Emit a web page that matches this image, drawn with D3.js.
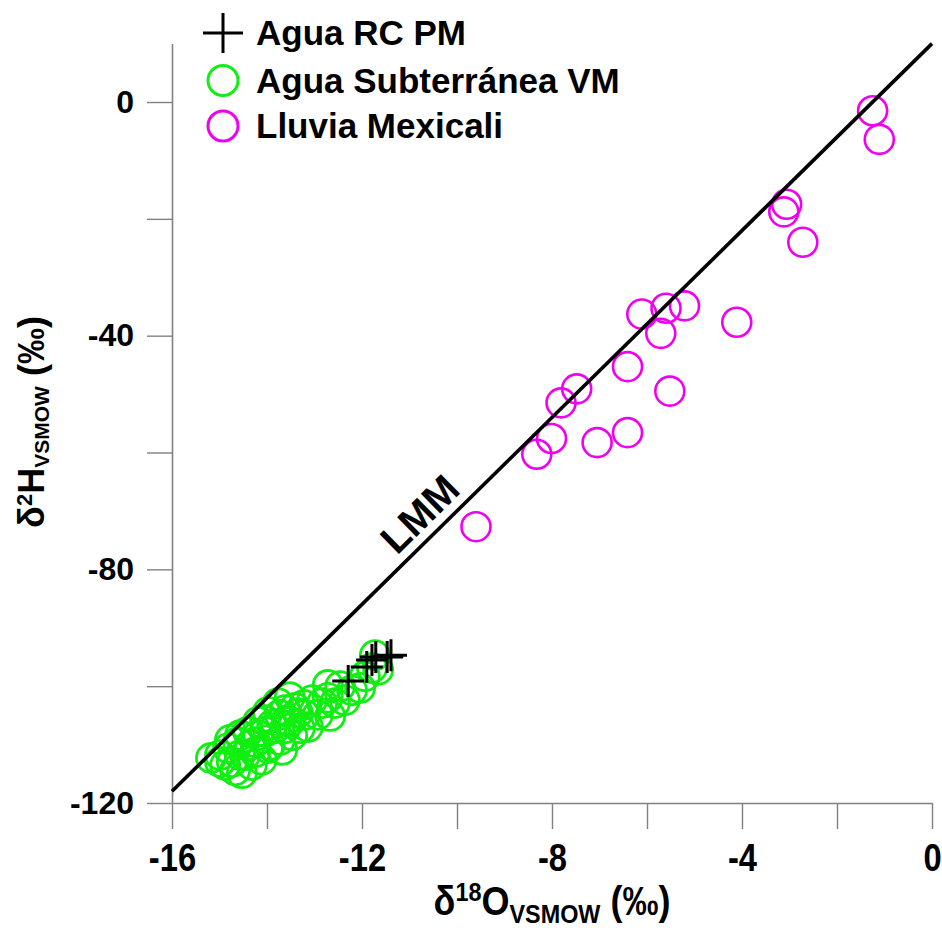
<!DOCTYPE html>
<html>
<head>
<meta charset="utf-8">
<script src="https://cdn.jsdelivr.net/npm/d3@7"></script>
<style>
  html, body { margin: 0; padding: 0; background: #fff; }
  svg { display: block; }
  text { font-family: "Liberation Sans", Arial, sans-serif; font-weight: bold; fill: #000; }
</style>
</head>
<body>
<svg id="chart" width="942" height="931"></svg>
<script>
// δ18O / δ2H (‰ VSMOW) values per sample group
const rcX = [-12.29, -11.90, -11.79, -11.71, -11.47, -11.39];
const rcY = [-99.1, -96.7, -95.5, -95.0, -95.0, -94.7];

const subX = [-15.18, -14.53, -14.99, -14.82, -14.61, -14.40, -14.74, -14.46, -14.25, -14.19,
              -14.11, -13.98, -13.94, -14.04, -13.77, -13.83, -13.73, -13.58, -13.52, -13.47,
              -13.35, -13.31, -13.22, -13.14, -13.05, -12.93, -12.84, -12.72, -12.57, -12.46,
              -12.36, -12.21, -12.04, -11.94, -11.79, -11.73, -11.66, -14.67, -14.32, -13.62,
              -13.68, -14.88, -12.67, -12.72, -14.78, -14.57, -14.36, -14.19, -14.04, -13.89,
              -13.73, -13.52, -13.41, -13.20, -14.57, -14.25, -14.99, -13.98, -13.62];
const subY = [-112.3, -114.9, -111.8, -110.6, -109.6, -107.8, -113.0, -111.8, -109.6, -106.1,
              -112.6, -104.4, -110.1, -107.8, -102.9, -107.2, -109.2, -105.8, -101.9, -108.4,
              -104.6, -107.2, -103.2, -107.0, -102.4, -104.9, -102.9, -102.0, -102.9, -100.0,
              -102.4, -100.7, -100.3, -98.3, -96.9, -94.7, -97.2, -114.4, -113.5, -104.1,
              -110.9, -113.5, -105.1, -99.8, -109.2, -108.4, -110.1, -108.4, -105.8, -106.6,
              -104.9, -106.1, -103.7, -104.9, -111.8, -111.3, -113.0, -110.6, -107.2];

const rainX = [-1.25, -1.11, -3.06, -3.12, -2.72, -4.11, -6.11, -5.60, -5.21, -5.71,
               -6.41, -5.52, -7.48, -7.81, -8.01, -8.32, -7.05, -6.41, -9.60];
const rainY = [-1.5, -6.4, -17.5, -18.8, -24.0, -37.7, -36.3, -35.3, -34.9, -39.6,
               -45.3, -49.5, -49.1, -51.5, -57.6, -60.3, -58.3, -56.6, -72.7];

// Local meteoric line (LMM) end points
const lmmX = [-16, 0];
const lmmY = [-118, 10];
const lmmLabelX = -10.43;

// Axis ticks
const xTicks = [-16, -14, -12, -10, -8, -6, -4, -2, 0];
const xTickLabels = [-16, -12, -8, -4, 0];
const yTicks = [-120, -100, -80, -60, -40, -20, 0];
const yTickLabels = [-120, -80, -40, 0];

const seriesNames = ["Agua RC PM", "Agua Subterránea VM", "Lluvia Mexicali"];
const seriesColors = ["#000000", "#11ee11", "#f000f0"];

const svg = d3.select("#chart");
const x = d3.scaleLinear().domain([-16, 0]).range([172, 932]);
const y = d3.scaleLinear().domain([-120, 10]).range([803, 43.6]);

const axisColor = "#808080";

// Y axis
const gy = svg.append("g").attr("transform", `translate(${x(-16)},0)`)
  .call(d3.axisLeft(y).tickValues(yTicks).tickSize(25).tickSizeOuter(0).tickPadding(13)
    .tickFormat(d => yTickLabels.includes(d) ? String(d) : ""));
gy.select(".domain").attr("stroke", axisColor).attr("stroke-width", 1.6);
gy.selectAll(".tick line").attr("stroke", axisColor).attr("stroke-width", 1.4);
gy.selectAll(".tick text").attr("font-size", 32).attr("font-family", null)
  .attr("font-weight", "bold").attr("fill", "#000");

// X axis
const gx = svg.append("g").attr("transform", `translate(0,${y(-120)})`)
  .call(d3.axisBottom(x).tickValues(xTicks).tickSize(26).tickSizeOuter(0)
    .tickFormat(d => xTickLabels.includes(d) ? String(d) : ""));
gx.select(".domain").attr("stroke", axisColor).attr("stroke-width", 1.6);
gx.selectAll(".tick line").attr("stroke", axisColor).attr("stroke-width", 1.4);
gx.selectAll(".tick text").attr("font-size", 39).attr("font-family", null)
  .attr("font-weight", "bold").attr("fill", "#000")
  .attr("dy", null).attr("y", 0)
  .attr("transform", "translate(0,68) scale(0.84,1)");

// Samples
const r = 14.5;
svg.append("g").selectAll("circle").data(d3.range(subX.length)).join("circle")
  .attr("cx", i => x(subX[i])).attr("cy", i => y(subY[i])).attr("r", r)
  .attr("fill", "none").attr("stroke", seriesColors[1]).attr("stroke-width", 2.8);

svg.append("g").selectAll("circle").data(d3.range(rainX.length)).join("circle")
  .attr("cx", i => x(rainX[i])).attr("cy", i => y(rainY[i])).attr("r", r)
  .attr("fill", "none").attr("stroke", seriesColors[2]).attr("stroke-width", 2.6);

const plus = s => `M${-s},0H${s}M0,${-s}V${s}`;
svg.append("g").selectAll("path").data(d3.range(rcX.length)).join("path")
  .attr("transform", i => `translate(${x(rcX[i])},${y(rcY[i])})`)
  .attr("d", plus(16)).attr("stroke", "#000").attr("stroke-width", 3).attr("fill", "none");

// LMM line
svg.append("path")
  .attr("d", d3.line()([[x(lmmX[0]), y(lmmY[0])], [x(lmmX[1]), y(lmmY[1])]]))
  .attr("stroke", "#000").attr("stroke-width", 3.6).attr("fill", "none");

const theta = Math.atan2(y(lmmY[1]) - y(lmmY[0]), x(lmmX[1]) - x(lmmX[0]));
const lmmAt = lmmY[0] + (lmmY[1] - lmmY[0]) * (lmmLabelX - lmmX[0]) / (lmmX[1] - lmmX[0]);
const off = 10;
const lx = x(lmmLabelX) + Math.sin(theta) * off;
const ly = y(lmmAt) - Math.cos(theta) * off;
svg.append("text")
  .attr("transform", `translate(${lx},${ly}) rotate(${theta * 180 / Math.PI})`)
  .attr("text-anchor", "middle").attr("font-size", 40).text("LMM");

// Axis titles
const xt = svg.append("text")
  .attr("transform", "translate(552,915) scale(0.9,1)")
  .attr("text-anchor", "middle").attr("font-size", 40);
xt.append("tspan").text("δ");
xt.append("tspan").attr("font-size", 26).attr("dy", -14).text("18");
xt.append("tspan").attr("dy", 14).text("O");
xt.append("tspan").attr("font-size", 26).attr("dy", 8).text("VSMOW");
xt.append("tspan").attr("dy", -8).text(" (‰)");

const yt = svg.append("text")
  .attr("transform", "translate(44,422) rotate(-90)")
  .attr("text-anchor", "middle").attr("font-size", 36);
yt.append("tspan").text("δ");
yt.append("tspan").attr("font-size", 22).attr("dy", -12).text("2");
yt.append("tspan").attr("dy", 12).text("H");
yt.append("tspan").attr("font-size", 21).attr("dy", 5).text("VSMOW");
yt.append("tspan").attr("dy", -5).text(" (‰)");

// Legend
const legY = [33, 80.5, 126];
const leg = svg.append("g");
leg.append("path").attr("transform", `translate(223,${legY[0]})`).attr("d", plus(20))
  .attr("stroke", "#000").attr("stroke-width", 3).attr("fill", "none");
leg.append("circle").attr("cx", 223).attr("cy", legY[1]).attr("r", 15)
  .attr("fill", "none").attr("stroke", seriesColors[1]).attr("stroke-width", 3);
leg.append("circle").attr("cx", 223).attr("cy", legY[2]).attr("r", 15)
  .attr("fill", "none").attr("stroke", seriesColors[2]).attr("stroke-width", 3);
leg.selectAll("text").data(seriesNames).join("text")
  .attr("x", 256).attr("y", (d, i) => legY[i] + 12)
  .attr("font-size", 35).text(d => d);
</script>
</body>
</html>
